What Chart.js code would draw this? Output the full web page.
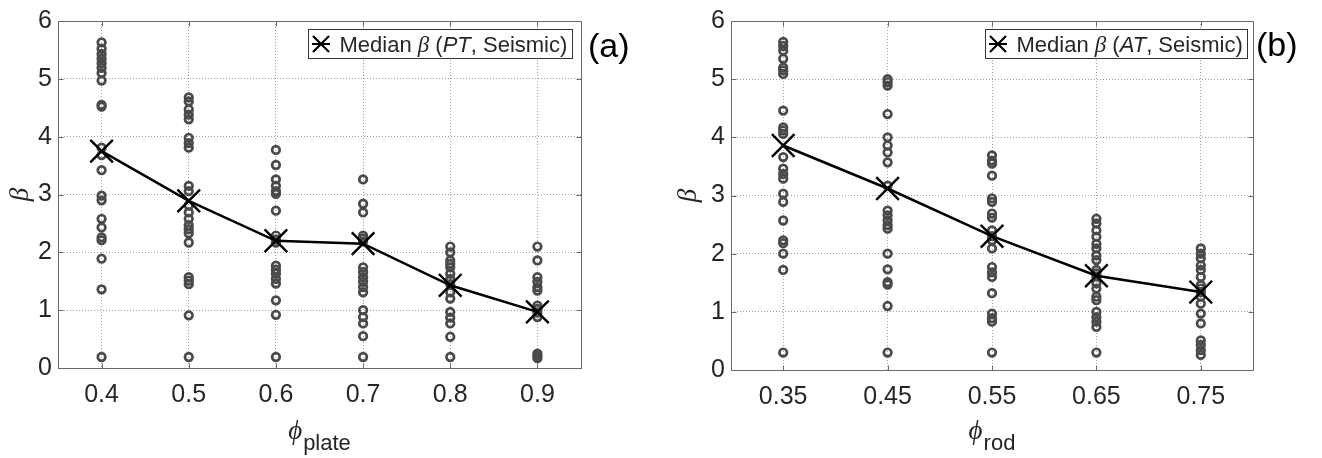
<!DOCTYPE html>
<html><head><meta charset="utf-8">
<script src="https://cdn.jsdelivr.net/npm/chart.js@4"></script>
<style>
html,body{margin:0;padding:0;background:#fff;}
#wrap{position:relative;width:1322px;height:458px;background:#fff;}
.cv{position:absolute;top:0;width:661px;height:458px;}
</style></head><body>
<div id="wrap">
<div class="cv" style="left:0"><canvas id="c1" width="661" height="458"></canvas></div>
<div class="cv" style="left:661px"><canvas id="c2" width="661" height="458"></canvas></div>
</div>
<script>
// ---------- Panel (a): plate, PT ----------
const plateCategories = [0.4, 0.5, 0.6, 0.7, 0.8, 0.9];
const plateTickLabels = ['0.4', '0.5', '0.6', '0.7', '0.8', '0.9'];
const betaPlate04 = [5.63, 5.52, 5.43, 5.35, 5.27, 5.19, 5.10, 4.97, 4.55, 4.52, 3.81, 3.68, 3.42, 2.98, 2.90, 2.58, 2.43, 2.26, 2.21, 1.89, 1.36, 0.19];
const betaPlate05 = [4.68, 4.61, 4.47, 4.38, 4.30, 3.98, 3.89, 3.81, 3.15, 3.06, 2.81, 2.69, 2.58, 2.47, 2.40, 2.33, 2.17, 1.57, 1.51, 1.45, 0.91, 0.19];
const betaPlate06 = [3.77, 3.51, 3.26, 3.15, 3.06, 3.01, 2.72, 2.29, 2.22, 2.17, 1.77, 1.70, 1.63, 1.54, 1.46, 1.17, 0.92, 0.19];
const betaPlate07 = [3.26, 2.84, 2.69, 2.29, 2.24, 2.19, 1.74, 1.66, 1.57, 1.49, 1.40, 1.31, 1.00, 0.88, 0.77, 0.55, 0.19];
const betaPlate08 = [2.10, 2.00, 1.86, 1.80, 1.74, 1.63, 1.54, 1.45, 1.31, 1.20, 0.97, 0.87, 0.77, 0.54, 0.19];
const betaPlate09 = [2.10, 1.86, 1.57, 1.49, 1.40, 1.34, 1.08, 1.02, 0.96, 0.88, 0.25, 0.21, 0.17];
const medianPlate = [3.75, 2.89, 2.20, 2.15, 1.43, 0.97];

// ---------- Panel (b): rod, AT ----------
const rodCategories = [0.35, 0.45, 0.55, 0.65, 0.75];
const rodTickLabels = ['0.35', '0.45', '0.55', '0.65', '0.75'];
const betaRod035 = [5.64, 5.57, 5.49, 5.35, 5.20, 5.15, 5.09, 4.46, 4.17, 4.12, 4.06, 3.66, 3.46, 3.37, 3.29, 3.03, 2.89, 2.57, 2.23, 2.18, 2.00, 1.72, 0.30];
const betaRod045 = [5.00, 4.95, 4.89, 4.40, 4.00, 3.86, 3.74, 3.57, 3.17, 2.74, 2.66, 2.57, 2.49, 2.43, 2.00, 1.73, 1.51, 1.47, 1.10, 0.30];
const betaRod055 = [3.69, 3.60, 3.55, 3.34, 2.95, 2.89, 2.69, 2.62, 2.40, 2.30, 2.23, 2.09, 1.77, 1.68, 1.60, 1.32, 0.97, 0.89, 0.83, 0.30];
const betaRod065 = [2.60, 2.52, 2.40, 2.29, 2.17, 2.09, 1.97, 1.89, 1.72, 1.66, 1.61, 1.49, 1.40, 1.26, 1.20, 1.00, 0.91, 0.83, 0.74, 0.30];
const betaRod075 = [2.09, 2.00, 1.92, 1.80, 1.72, 1.60, 1.46, 1.40, 1.34, 1.26, 1.14, 0.97, 0.80, 0.51, 0.43, 0.34, 0.26];
const medianRod = [3.86, 3.12, 2.30, 1.62, 1.34];

const yTicks = [0, 1, 2, 3, 4, 5, 6];

const TXT = '#262626';

const decor = {
  id: 'decor',
  afterDraw(chart, args, o) {
    const ctx = chart.ctx, a = chart.chartArea, xs = chart.scales.x, ys = chart.scales.y;
    ctx.save();
    // frame and inner ticks
    ctx.strokeStyle = '#6a6a6a'; ctx.lineWidth = 1; ctx.setLineDash([]);
    const L = Math.round(a.left) + 0.5, R = Math.round(a.right) + 0.5, T = Math.round(a.top) + 0.5, B = Math.round(a.bottom) + 0.5;
    ctx.beginPath();
    ctx.rect(L, T, R - L, B - T);
    xs.ticks.forEach(t => { const p = Math.round(xs.getPixelForValue(t.value)) + 0.5; ctx.moveTo(p, B); ctx.lineTo(p, B - 5); ctx.moveTo(p, T); ctx.lineTo(p, T + 5); });
    ys.ticks.forEach(t => { const p = Math.round(ys.getPixelForValue(t.value)) + 0.5; ctx.moveTo(L, p); ctx.lineTo(L + 5, p); ctx.moveTo(R, p); ctx.lineTo(R - 5, p); });
    ctx.stroke();

    // y title (rotated beta)
    ctx.fillStyle = TXT;
    ctx.font = 'italic 27px "Liberation Serif"';
    ctx.textAlign = 'center'; ctx.textBaseline = 'middle';
    ctx.save(); ctx.translate(o.yTitleX, (a.top + a.bottom) / 2); ctx.rotate(-Math.PI / 2); ctx.fillText('β', 0, 0); ctx.restore();

    // x title with subscript
    const f1 = 'italic 27px "Liberation Serif"', f2 = '22px "Liberation Sans"';
    ctx.textAlign = 'left'; ctx.textBaseline = 'alphabetic';
    ctx.font = f1; const w1 = ctx.measureText('ϕ').width;
    ctx.font = f2; const w2 = ctx.measureText(o.sub).width;
    const x0 = (a.left + a.right) / 2 - (w1 + w2 + 1) / 2;
    ctx.font = f1; ctx.fillText('ϕ', x0, o.phiBase);
    ctx.font = f2; ctx.fillText(o.sub, x0 + w1 + 1, o.subBase);

    // legend
    const N = '22px "Liberation Sans"', I = 'italic 22px "Liberation Sans"', IS = 'italic 23px "Liberation Serif"';
    const pieces = [['Median ', N], ['β', IS], [' (', N], [o.abbr, I], [', Seismic)', N]];
    let tw = 0;
    pieces.forEach(p => { ctx.font = p[1]; p.push(ctx.measureText(p[0]).width); tw += p[2]; });
    const bw = Math.round(31 + tw + 5), bh = 29;
    const bx = Math.round(a.right - o.legGap - bw) + 0.5, by = Math.round(a.top + 8) + 0.5;
    ctx.fillStyle = '#fff'; ctx.fillRect(bx, by, bw, bh);
    ctx.strokeStyle = '#333'; ctx.lineWidth = 1; ctx.strokeRect(bx, by, bw, bh);
    const my = by + bh / 2, mx = bx + 12.5;
    ctx.strokeStyle = '#000'; ctx.lineWidth = 2.2;
    ctx.beginPath();
    ctx.moveTo(mx - 8, my - 8); ctx.lineTo(mx + 8, my + 8);
    ctx.moveTo(mx - 8, my + 8); ctx.lineTo(mx + 8, my - 8);
    ctx.moveTo(mx - 9, my); ctx.lineTo(mx + 9, my);
    ctx.stroke();
    ctx.fillStyle = TXT;
    let tx = bx + 31;
    pieces.forEach(p => { ctx.font = p[1]; ctx.fillText(p[0], tx, my + 8); tx += p[2]; });

    // panel label
    ctx.fillStyle = '#000';
    ctx.font = '34px "Liberation Sans"';
    ctx.fillText(o.panel, o.panelX, o.panelY);
    ctx.restore();
  }
};

function makeChart(id, cats, tickLabels, columns, medians, opt) {
  const pts = [];
  columns.forEach((col, i) => col.forEach(v => pts.push({ x: cats[i], y: v })));
  const med = cats.map((c, i) => ({ x: c, y: medians[i] }));
  return new Chart(document.getElementById(id), {
    type: 'scatter',
    data: {
      datasets: [
        {
          data: med, showLine: true, borderColor: '#000', borderWidth: 2.5,
          pointStyle: 'crossRot', pointRadius: 16, pointBorderWidth: 2.4, pointBorderColor: '#000',
          pointBackgroundColor: '#000', tension: 0
        },
        {
          data: pts, showLine: false, pointStyle: 'circle', pointRadius: 3.8,
          pointBorderWidth: 2.7, pointBorderColor: '#4a4a4a', pointBackgroundColor: 'rgba(0,0,0,0)'
        }
      ]
    },
    options: {
      responsive: false, animation: false, events: [],
      layout: { padding: opt.padding },
      plugins: { legend: { display: false }, tooltip: { enabled: false }, decor: opt.decor },
      scales: {
        x: {
          type: 'linear', min: opt.xmin, max: opt.xmax,
          afterBuildTicks: s => { s.ticks = cats.map(v => ({ value: v })); },
          afterFit: s => { s.height = opt.xh; },
          ticks: { autoSkip: false, maxRotation: 0, padding: 12, color: TXT,
                   font: { family: '"Liberation Sans"', size: 25 },
                   callback: (v, i) => tickLabels[i] },
          grid: { color: '#a0a0a0', lineWidth: 1, drawTicks: false },
          border: { display: false, dash: [1, 2] }
        },
        y: {
          min: 0, max: 6,
          afterBuildTicks: s => { s.ticks = yTicks.map(v => ({ value: v })); },
          afterFit: s => { s.width = opt.yw; },
          ticks: { padding: 6, color: TXT, font: { family: '"Liberation Sans"', size: 25 },
                   callback: v => String(v) },
          grid: { color: '#a0a0a0', lineWidth: 1, drawTicks: false },
          border: { display: false, dash: [1, 2] }
        }
      }
    },
    plugins: [decor]
  });
}

makeChart('c1', plateCategories, plateTickLabels,
  [betaPlate04, betaPlate05, betaPlate06, betaPlate07, betaPlate08, betaPlate09], medianPlate,
  { xmin: 0.35, xmax: 0.95, xh: 70, yw: 58,
    padding: { left: 0, right: 80, top: 19, bottom: 20 },
    decor: { yTitleX: 21, sub: 'plate', phiBase: 439, subBase: 450, abbr: 'PT', legGap: 9, panel: '(a)', panelX: 588, panelY: 57 } });

makeChart('c2', rodCategories, rodTickLabels,
  [betaRod035, betaRod045, betaRod055, betaRod065, betaRod075], medianRod,
  { xmin: 0.30, xmax: 0.80, xh: 68, yw: 70,
    padding: { left: 0, right: 69, top: 20, bottom: 20 },
    decor: { yTitleX: 28, sub: 'rod', phiBase: 439, subBase: 450, abbr: 'AT', legGap: 6, panel: '(b)', panelX: 595, panelY: 56 } });
</script>
</body></html>
